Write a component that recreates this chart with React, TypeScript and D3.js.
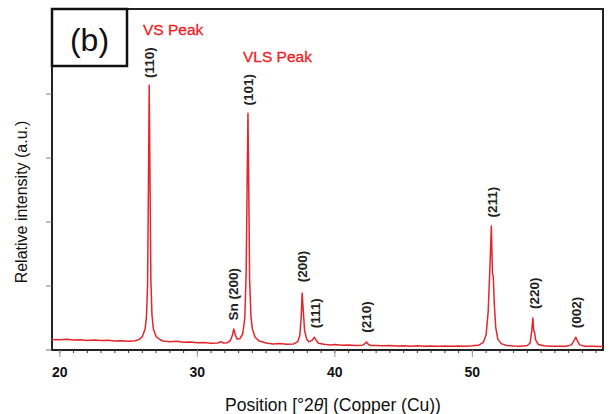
import React from "react";
import * as d3 from "d3";

// XRD pattern: [2theta (deg), intensity (counts)]
const profile: [number, number][] = [
  [19.4, 165], [20, 160], [20.5, 168], [21, 155], [21.5, 162], [22, 150], [22.5, 158],
  [23, 148], [23.5, 152], [24, 140], [24.5, 146], [25, 138], [25.5, 145], [25.8, 170],
  [26.0, 210], [26.2, 330], [26.3, 520], [26.38, 1000], [26.44, 2500], [26.5, 4140],
  [26.56, 2600], [26.62, 1100], [26.7, 550], [26.8, 330], [27.0, 210], [27.3, 160],
  [27.5, 140], [28, 130], [28.5, 135], [29, 120], [29.5, 125], [30, 112], [30.5, 118],
  [31, 105], [31.5, 110], [31.7, 130], [31.9, 110], [32.2, 115], [32.4, 150], [32.55, 230],
  [32.65, 330], [32.75, 240], [32.9, 170], [33.1, 180], [33.3, 250], [33.45, 500],
  [33.55, 1200], [33.62, 2600], [33.68, 3700], [33.74, 2500], [33.8, 1100], [33.9, 520],
  [34.0, 330], [34.2, 200], [34.5, 140], [35, 110], [35.5, 95], [36, 100], [36.5, 88],
  [37, 95], [37.3, 130], [37.45, 230], [37.55, 500], [37.62, 890], [37.7, 620], [37.8, 300],
  [37.95, 170], [38.1, 130], [38.35, 150], [38.5, 200], [38.65, 150], [38.8, 105],
  [39.2, 90], [39.7, 80], [40, 85], [40.5, 75], [41, 80], [41.5, 70], [42, 75], [42.2, 100],
  [42.3, 125], [42.4, 95], [42.6, 70], [43, 72], [43.5, 65], [44, 70], [44.5, 62], [45, 68],
  [45.5, 60], [46, 65], [46.5, 58], [47, 64], [47.5, 58], [48, 62], [48.5, 58], [49, 62],
  [49.5, 60], [50, 68], [50.5, 80], [50.8, 120], [51.0, 240], [51.15, 600], [51.28, 1300],
  [51.38, 1940], [51.46, 1200], [51.52, 1150], [51.6, 700], [51.7, 350], [51.85, 170],
  [52.1, 100], [52.5, 70], [53, 62], [53.5, 60], [54, 70], [54.2, 110], [54.32, 300],
  [54.4, 500], [54.47, 290], [54.52, 280], [54.6, 160], [54.8, 85], [55.2, 65], [55.7, 58],
  [56.2, 60], [56.8, 58], [57.2, 80], [57.45, 170], [57.52, 200], [57.62, 150], [57.8, 80],
  [58.2, 60], [58.7, 58], [59.2, 55], [59.5, 56],
];

// peak labels: text, position (deg), intensity at the label's lower end
const peakNames = ["(110)", "Sn (200)", "(101)", "(200)", "(111)", "(210)", "(211)", "(220)", "(002)"];
const peakPos = [26.5, 32.62, 33.68, 37.62, 38.55, 42.3, 51.42, 54.45, 57.52];
const peakLabelAt = [4250, 460, 3820, 1060, 340, 270, 2070, 640, 340];

const xTicks = [20, 30, 40, 50];
const yTicks = [0, 1000, 2000, 3000, 4000];

const W = 610, H = 414;
const left = 52, right = 603, top = 9, bottom = 350;

export default function App() {
  const x = d3.scaleLinear().domain([19.43, 59.5]).range([left, right]);
  const y = d3.scaleLinear().domain([0, 5330]).range([bottom, top]);
  const line = d3.line<[number, number]>().x((d) => x(d[0])).y((d) => y(d[1]));
  const minor = d3.range(20, 60, 1);
  const font = "'Liberation Sans', Arial, sans-serif";

  return (
    <svg width={W} height={H} style={{ position: "absolute", left: 0, top: 0, background: "#fff" }}>
      {/* frame */}
      <rect x={left} y={top} width={right - left} height={bottom - top} fill="none" stroke="#222" strokeWidth={2} />
      {/* x ticks */}
      {minor.map((t) => (
        <line key={"m" + t} x1={x(t)} x2={x(t)} y1={bottom} y2={bottom + 3} stroke="#333" strokeWidth={1} />
      ))}
      {xTicks.map((t) => (
        <g key={"x" + t}>
          <line x1={x(t)} x2={x(t)} y1={bottom} y2={bottom + 7} stroke="#999" strokeWidth={1} />
          <text x={x(t)} y={377} textAnchor="middle" fontFamily={font} fontWeight="bold" fontSize={14} fill="#111">
            {t}
          </text>
        </g>
      ))}
      {/* y ticks */}
      {yTicks.map((t) => (
        <line key={"y" + t} x1={left - 6} x2={left} y1={y(t)} y2={y(t)} stroke="#777" strokeWidth={1} />
      ))}
      {/* curve */}
      <path d={line(profile) || ""} fill="none" stroke="#e2262c" strokeWidth={1.5} strokeLinejoin="round" />
      {/* peak labels */}
      {peakNames.map((n, i) => (
        <text
          key={n + i}
          transform={`translate(${x(peakPos[i]) + 5},${y(peakLabelAt[i])}) rotate(-90)`}
          fontFamily={font}
          fontWeight="bold"
          fontSize={13.5}
          fill="#222"
        >
          {n}
        </text>
      ))}
      <text x={143} y={35} fontFamily={font} fontSize={15.5} fill="#ee1c24" stroke="#ee1c24" strokeWidth={0.3}>VS Peak</text>
      <text x={243} y={62} fontFamily={font} fontSize={15.5} fill="#ee1c24" stroke="#ee1c24" strokeWidth={0.3}>VLS Peak</text>
      {/* panel tag */}
      <rect x={left} y={top} width={75} height={57} fill="#fff" stroke="#111" strokeWidth={2.5} />
      <text x={89.5} y={51} textAnchor="middle" fontFamily={font} fontSize={32} fill="#111">(b)</text>
      {/* axis titles */}
      <text x={333} y={411} textAnchor="middle" fontFamily={font} fontSize={17.5} fill="#111">
        Position [°2<tspan fontStyle="italic">θ</tspan>] (Copper (Cu))
      </text>
      <text transform="translate(27,202) rotate(-90)" textAnchor="middle" fontFamily={font} fontSize={16} fill="#111">
        Relative intensity (a.u.)
      </text>
    </svg>
  );
}
